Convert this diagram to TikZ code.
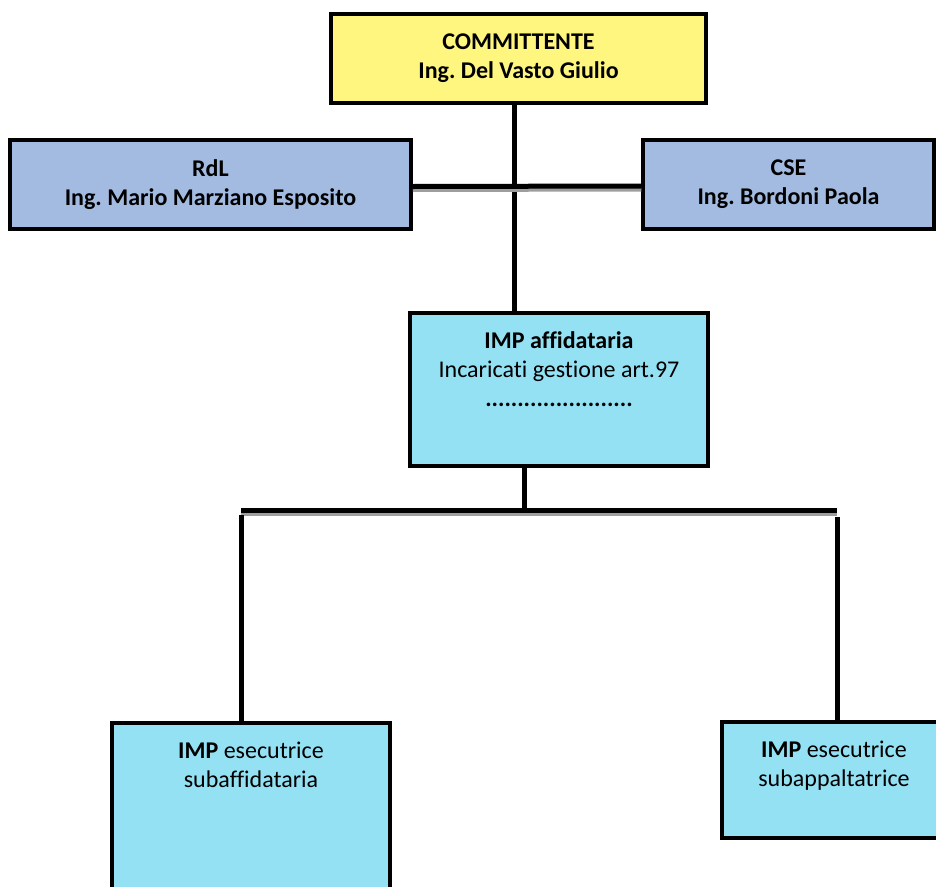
\documentclass[tikz,border=0pt]{standalone}
\usepackage{fontspec}
\setmainfont{Carlito}[Ligatures=NoCommon]
\frenchspacing
\definecolor{commyellow}{HTML}{FFF67F}
\definecolor{rdlblue}{HTML}{A3BBE0}
\definecolor{impcyan}{HTML}{93E1F3}
\tikzset{
    orgbox/.style={draw=black, line width=3.5pt, align=center,
        font=\fontsize{24}{29}\selectfont},
    toptext/.style={anchor=north, inner sep=0pt, align=center,
        font=\fontsize{24}{29}\selectfont},
    conn/.style={line width=5pt},
    shadowline/.style={conn, preaction={draw=black!38, line width=4pt,
        transform canvas={yshift=-3.5pt}}}
}
\begin{document}
\begin{tikzpicture}[x=1pt,y=-1pt]
    \useasboundingbox (0,0) rectangle (936,886);

    % boxes
    \node[orgbox, fill=commyellow, minimum width=375pt, minimum height=89pt, font=\fontsize{24}{29}\selectfont\bfseries]
        (comm) at (518.5,58.5) {COMMITTENTE\\Ing. Del Vasto Giulio};
    \node[orgbox, fill=rdlblue, minimum width=401pt, minimum height=89pt, font=\fontsize{24}{29}\selectfont\bfseries]
        (rdl) at (210.5,184.5) {RdL\\Ing. Mario Marziano Esposito};
    \node[orgbox, fill=rdlblue, minimum width=291pt, minimum height=89pt, font=\fontsize{24}{29}\selectfont\bfseries]
        (cse) at (788.5,184.5) {CSE\\Ing. Bordoni Paola};
    \node[orgbox, fill=impcyan, minimum width=298pt, minimum height=153pt]
        (aff) at (559,389.5) {};
    \node[orgbox, fill=impcyan, minimum width=278pt, minimum height=180pt]
        (subaff) at (251,813) {};
    \node[orgbox, fill=impcyan, minimum width=224pt, minimum height=116pt]
        (subapp) at (834,780) {};

    % texts at the top of the boxes
    \node[toptext] (afftxt) at ([yshift=-20pt]aff.north)
        {\textbf{IMP affidataria}\\Incaricati gestione art.97\\\textbf{.......................}};
    \node[toptext] (subafftxt) at ([yshift=-21pt]subaff.north)
        {\textbf{IMP} esecutrice\\subaffidataria};
    \node[toptext] (subapptxt) at ([yshift=-21pt]subapp.north)
        {\textbf{IMP} esecutrice\\subappaltatrice};

    % connectors
    \coordinate (spine) at (514,0);
    \coordinate (drop) at (524,0);
    \coordinate (busL) at (241,510);
    \coordinate (busR) at (837,510);

    \draw[conn] (comm.south -| spine) -- (aff.north -| spine);
    \draw[shadowline] ([yshift=-2pt]rdl.east) -- ([yshift=-1.5pt]cse.west);
    \draw[conn] (aff.south -| drop) -- (drop |- busL);
    \draw[shadowline] (busL) -- (busR);
    \draw[conn] ([yshift=-5pt]busL) -- (subaff.north -| busL);
    \draw[conn] ([yshift=-7pt]busR) -- (subapp.north -| busR);
\end{tikzpicture}
\end{document}
